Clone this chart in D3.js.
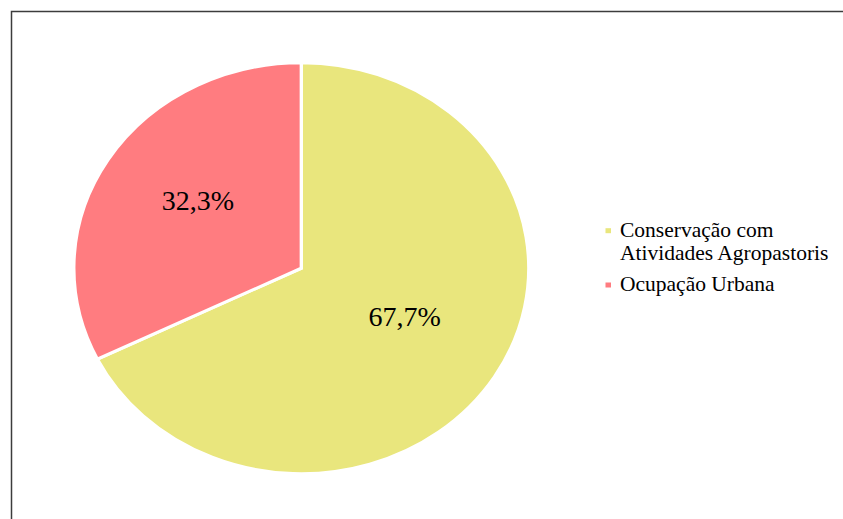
<!DOCTYPE html>
<html>
<head>
<meta charset="utf-8">
<script src="https://cdn.jsdelivr.net/npm/d3@7"></script>
<style>
  html, body { margin: 0; padding: 0; background: #fff; }
  svg { display: block; }
</style>
</head>
<body>
<svg id="chart" width="843" height="519"></svg>
<script>
// Land use shares (%)
const categories = ["Conservação com\nAtividades Agropastoris", "Ocupação Urbana"];
const values = [67.7, 32.3];
const valueLabels = ["67,7%", "32,3%"];
const colors = ["#E9E67D", "#FF7C80"];

const FONT = '"Liberation Serif", "Times New Roman", serif';
const svg = d3.select("#chart");

// Outer frame
svg.append("rect")
  .attr("x", 11.5).attr("y", 11.5)
  .attr("width", 900).attr("height", 600)
  .attr("fill", "none")
  .attr("stroke", "#3c3c3c")
  .attr("stroke-width", 1.5);

// The pie is drawn slightly wider than tall
const sx = 1.107;

const R = 205.5;
const cxs = 301.3, cy = 268.2;   // screen centre

const pie = d3.pie().sort(null).value(d => d.value);
const data = categories.map((c, i) => ({ name: c, value: values[i], label: valueLabels[i], color: colors[i] }));
const arcs = pie(data);

const arc = d3.arc().innerRadius(0).outerRadius(R);
const labelArc = d3.arc().innerRadius(R * 0.535).outerRadius(R * 0.535);

const pieG = svg.append("g")
  .attr("transform", `translate(${cxs},${cy}) scale(${sx},1)`);

pieG.selectAll("path")
  .data(arcs)
  .join("path")
  .attr("d", arc)
  .attr("fill", d => d.data.color)
  .attr("stroke", "#fff")
  .attr("stroke-width", 3)
  .attr("stroke-linejoin", "miter");

// Value labels, placed in screen coordinates (positions mapped through sx)
svg.selectAll("text.val")
  .data(arcs)
  .join("text")
  .attr("class", "val")
  .attr("x", d => cxs + labelArc.centroid(d)[0] * sx)
  .attr("y", d => cy + labelArc.centroid(d)[1])
  .attr("text-anchor", "middle")
  .style("font-family", FONT)
  .attr("font-size", 28)
  .attr("fill", "#000")
  .text(d => d.data.label);

// Legend
const legendRows = [
  { y: 236.7, lines: categories[0].split("\n"), color: colors[0] },
  { y: 291, lines: categories[1].split("\n"), color: colors[1] }
];
legendRows.forEach(row => {
  svg.append("rect")
    .attr("x", 605.5).attr("y", row.y - 8.5)
    .attr("width", 5.5).attr("height", 5)
    .attr("fill", row.color);
  row.lines.forEach((ln, i) => {
    svg.append("text")
      .attr("x", 620)
      .attr("y", row.y + i * 23.3)
      .style("font-family", FONT)
      .attr("font-size", 21.5)
      .attr("fill", "#000")
      .text(ln);
  });
});
</script>
</body>
</html>
